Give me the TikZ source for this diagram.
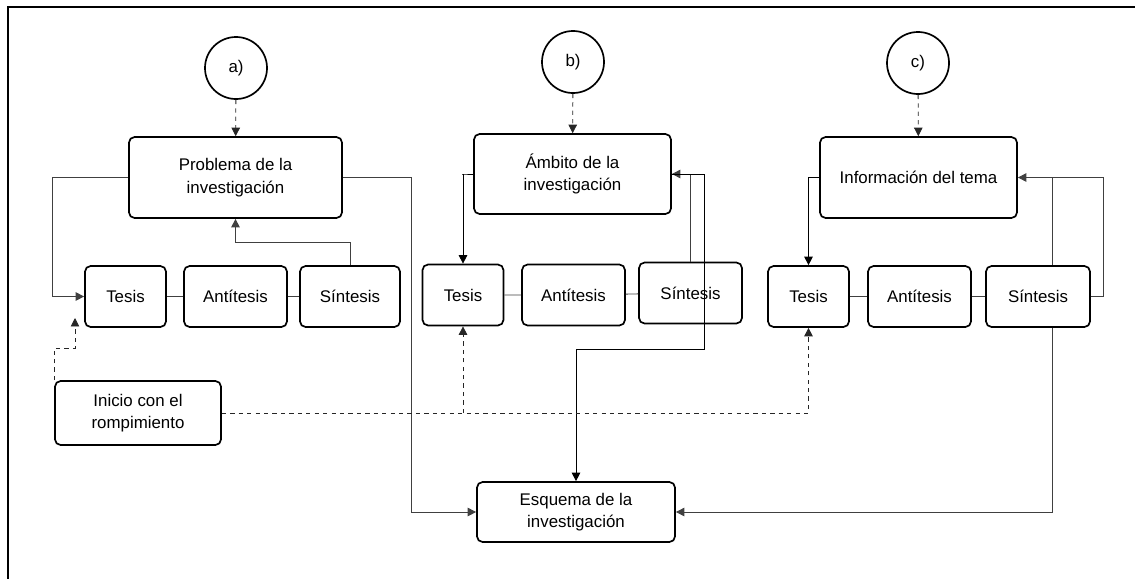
\documentclass[tikz,border=0pt]{standalone}
\usepackage{fontspec}
\setmainfont{Liberation Sans}
\usetikzlibrary{arrows.meta,backgrounds}

\tikzset{
  caja/.style={draw, line width=1.2pt, rounded corners=4pt, fill=white, align=center, inner sep=0pt, font=\fontsize{12}{16}\selectfont},
  etapa/.style={caja, minimum height=1.525cm},
  letra/.style={draw, circle, line width=1.2pt, minimum size=1.55cm, inner sep=0pt, font=\fontsize{12}{16}\selectfont},
  flecha/.style={draw=black!75, line width=0.6pt, -{Triangle[length=6pt,width=6pt]}},
  linea/.style={draw=black!75, line width=0.6pt},
  punteada/.style={flecha, draw=black!85, dashed}
}

\begin{document}
\begin{tikzpicture}[x=0.025cm, y=-0.025cm]
\useasboundingbox (0,0) rectangle (1135,579);
\draw[line width=1.6pt] (1135,7) -- (8,7) -- (8,579);

% a)
\node[letra] (ca) at (236,68) {a)};
\node[caja, minimum width=5.325cm, minimum height=2.025cm] (prob) at (235.5,177.5) {Problema de la\\investigación};
\node[etapa, minimum width=2.025cm] (tesa) at (125.5,296.5) {Tesis};
\node[etapa, minimum width=2.575cm] (anta) at (235.5,296.5) {Antítesis};
\node[etapa, minimum width=2.5cm] (sina) at (350,296.5) {Síntesis};

% b)
\node[letra] (cb) at (573,62) {b)};
\node[caja, minimum width=4.925cm, minimum height=2cm] (amb) at (572.5,174) {Ámbito de la\\investigación};
\node[etapa, minimum width=2.025cm] (tesb) at (463,295) {Tesis};
\node[etapa, minimum width=2.575cm] (antb) at (573.5,295) {Antítesis};
\node[etapa, minimum width=2.575cm] (sinb) at (690.5,293) {Síntesis};

% c)
\node[letra] (cc) at (918,63) {c)};
\node[caja, minimum width=4.925cm, minimum height=2.025cm] (info) at (918.5,177.5) {Información del tema};
\node[etapa, minimum width=2.025cm] (tesc) at (808.5,296.5) {Tesis};
\node[etapa, minimum width=2.575cm] (antc) at (919.5,296.5) {Antítesis};
\node[etapa, minimum width=2.6cm] (sinc) at (1038,296.5) {Síntesis};

\node[caja, minimum width=4.15cm, minimum height=1.6cm] (ini) at (138,413) {Inicio con el\\rompimiento};
\node[caja, minimum width=4.95cm, minimum height=1.5cm] (esq) at (576,512) {Esquema de la\\investigación};

\coordinate (punta) at (75,318);
\coordinate (union) at (1052,177.5);

\draw[punteada] (ca) -- (prob);
\draw[punteada] (cb) -- (amb);
\draw[punteada] (cc) -- (info);

\draw[linea] (tesa) -- (anta) (anta) -- (sina);
\draw[linea] (tesb) -- (antb) (antb) -- (sinb);
\draw[linea] (tesc) -- (antc) (antc) -- (sinc);

\draw[flecha] (prob.west) -- ++(-76,0) |- (tesa.west);
\draw[flecha] (sina.north) -- ++(0,-23) -| (prob.south);
\draw[flecha] (prob.east) -- ++(69,0) |- (esq.west);

\draw[flecha, draw=black] (amb.west) -- ++(-11,0) -| (tesb.north);
\draw[flecha] (sinb.north) |- (amb.east);
\draw[flecha, draw=black] (amb.east) -- ++(33,0) -- ++(0,175) -| (esq.north);

\draw[flecha, draw=black] (info.west) -- ++(-10,0) -| (tesc.north);
\draw[flecha] (sinc.east) -- ++(13,0) |- (info.east);
\begin{pgfonlayer}{background}
\draw[flecha] (union) |- (esq.east);
\end{pgfonlayer}

\draw[punteada] (ini.east) -| (tesc.south);
\draw[punteada] (ini.east -| tesb.south) -- (tesb.south);
\draw[punteada] (ini.north west) -- ++(0,-32) -| (punta);
\end{tikzpicture}
\end{document}
